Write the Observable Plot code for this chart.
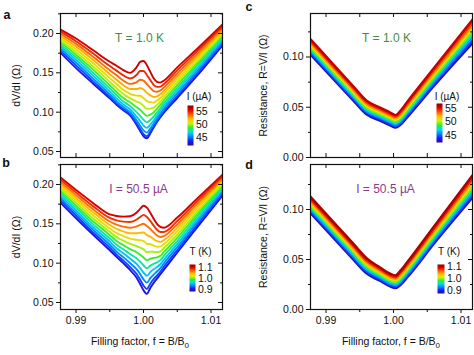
<!DOCTYPE html>
<html><head><meta charset="utf-8">
<script src="https://cdn.jsdelivr.net/npm/d3@7"></script>
<script src="https://cdn.jsdelivr.net/npm/@observablehq/plot@0.6"></script>
<style>
body{margin:0;background:#fff;}
#fig{position:relative;width:474px;height:355px;overflow:hidden;font-family:"Liberation Sans",Arial,sans-serif;color:#111;}
.t{position:absolute;white-space:nowrap;transform:translate(-50%,-50%);line-height:1;}
.lt{font-weight:bold;font-size:12.5px;}
.xt{font-size:10.5px;}
.cb{font-size:10px;}
</style></head><body><div id="fig"></div>
<script>
// ---------- data ----------
const xAB = [0.9877, 0.990, 0.9925, 0.995, 0.996, 0.997, 0.998, 0.999, 0.9995, 1.0000, 1.0005, 1.001, 1.0015, 1.002, 1.0025, 1.003, 1.005, 1.008, 1.0117];
const xCD = [0.9877, 0.991, 0.994, 0.996, 0.998, 0.9995, 1.0003, 1.001, 1.002, 1.006, 1.0117];

// panel a: dV/dI at T = 1.0 K, one row per current I (µA)
const currentsA = [43.0, 44.2, 45.4, 46.6, 47.8, 49.0, 50.2, 51.4, 52.6, 53.8, 55.0, 56.2];
const dvdiA = [
  [0.1755, 0.1560, 0.1365, 0.1175, 0.1095, 0.1025, 0.0960, 0.0835, 0.0762, 0.0694, 0.0668, 0.0730, 0.0805, 0.0875, 0.0935, 0.0990, 0.1180, 0.1470, 0.1850],
  [0.1782, 0.1594, 0.1395, 0.1196, 0.1112, 0.1039, 0.0975, 0.0855, 0.0786, 0.0720, 0.0694, 0.0751, 0.0822, 0.0893, 0.0955, 0.1013, 0.1208, 0.1501, 0.1874],
  [0.1809, 0.1628, 0.1430, 0.1226, 0.1141, 0.1065, 0.1002, 0.0892, 0.0830, 0.0768, 0.0740, 0.0791, 0.0853, 0.0922, 0.0983, 0.1043, 0.1240, 0.1532, 0.1898],
  [0.1835, 0.1663, 0.1467, 0.1261, 0.1175, 0.1098, 0.1037, 0.0940, 0.0887, 0.0830, 0.0800, 0.0841, 0.0894, 0.0958, 0.1017, 0.1076, 0.1273, 0.1563, 0.1922],
  [0.1862, 0.1697, 0.1505, 0.1300, 0.1215, 0.1137, 0.1078, 0.0997, 0.0954, 0.0904, 0.0872, 0.0901, 0.0942, 0.0999, 0.1053, 0.1112, 0.1308, 0.1594, 0.1946],
  [0.1889, 0.1731, 0.1544, 0.1342, 0.1259, 0.1181, 0.1126, 0.1062, 0.1031, 0.0987, 0.0953, 0.0970, 0.0997, 0.1044, 0.1093, 0.1149, 0.1344, 0.1625, 0.1970],
  [0.1916, 0.1765, 0.1583, 0.1387, 0.1307, 0.1231, 0.1178, 0.1133, 0.1116, 0.1079, 0.1042, 0.1045, 0.1057, 0.1093, 0.1136, 0.1188, 0.1380, 0.1656, 0.1995],
  [0.1943, 0.1799, 0.1624, 0.1433, 0.1358, 0.1284, 0.1234, 0.1211, 0.1208, 0.1179, 0.1140, 0.1127, 0.1122, 0.1146, 0.1180, 0.1229, 0.1417, 0.1686, 0.2019],
  [0.1970, 0.1834, 0.1665, 0.1483, 0.1412, 0.1342, 0.1295, 0.1294, 0.1307, 0.1287, 0.1245, 0.1215, 0.1193, 0.1202, 0.1227, 0.1270, 0.1455, 0.1717, 0.2043],
  [0.1996, 0.1868, 0.1706, 0.1533, 0.1469, 0.1403, 0.1360, 0.1383, 0.1412, 0.1402, 0.1356, 0.1309, 0.1268, 0.1260, 0.1275, 0.1312, 0.1493, 0.1748, 0.2067],
  [0.2023, 0.1902, 0.1748, 0.1586, 0.1528, 0.1467, 0.1428, 0.1476, 0.1523, 0.1523, 0.1473, 0.1408, 0.1347, 0.1321, 0.1325, 0.1356, 0.1531, 0.1779, 0.2091],
  [0.2050, 0.1936, 0.1790, 0.1640, 0.1590, 0.1535, 0.1500, 0.1575, 0.1640, 0.1650, 0.1597, 0.1512, 0.1430, 0.1385, 0.1376, 0.1400, 0.1570, 0.1810, 0.2115]
];

// panel b: dV/dI at I = 50.5 µA, one row per temperature T (K)
const tempsB = [0.900, 0.918, 0.936, 0.955, 0.973, 0.991, 1.009, 1.027, 1.045, 1.064, 1.082, 1.100];
const dvdiB = [
  [0.1770, 0.1571, 0.1364, 0.1164, 0.1080, 0.1000, 0.0914, 0.0812, 0.0736, 0.0655, 0.0610, 0.0685, 0.0750, 0.0804, 0.0859, 0.0914, 0.1135, 0.1461, 0.1860],
  [0.1799, 0.1604, 0.1393, 0.1197, 0.1109, 0.1033, 0.0952, 0.0859, 0.0790, 0.0715, 0.0672, 0.0739, 0.0796, 0.0843, 0.0893, 0.0952, 0.1167, 0.1494, 0.1884],
  [0.1828, 0.1636, 0.1426, 0.1234, 0.1147, 0.1077, 0.1002, 0.0920, 0.0859, 0.0794, 0.0752, 0.0809, 0.0855, 0.0894, 0.0937, 0.0996, 0.1203, 0.1527, 0.1908],
  [0.1857, 0.1669, 0.1460, 0.1273, 0.1189, 0.1125, 0.1058, 0.0987, 0.0937, 0.0881, 0.0840, 0.0886, 0.0922, 0.0950, 0.0986, 0.1042, 0.1242, 0.1560, 0.1932],
  [0.1886, 0.1702, 0.1496, 0.1314, 0.1234, 0.1176, 0.1117, 0.1059, 0.1019, 0.0974, 0.0935, 0.0969, 0.0992, 0.1011, 0.1038, 0.1090, 0.1281, 0.1593, 0.1956],
  [0.1915, 0.1734, 0.1533, 0.1356, 0.1282, 0.1230, 0.1179, 0.1136, 0.1106, 0.1072, 0.1035, 0.1056, 0.1067, 0.1074, 0.1093, 0.1139, 0.1322, 0.1626, 0.1981],
  [0.1945, 0.1767, 0.1570, 0.1398, 0.1331, 0.1286, 0.1244, 0.1215, 0.1197, 0.1175, 0.1139, 0.1147, 0.1144, 0.1140, 0.1150, 0.1189, 0.1363, 0.1660, 0.2005],
  [0.1974, 0.1800, 0.1608, 0.1441, 0.1382, 0.1344, 0.1311, 0.1297, 0.1291, 0.1280, 0.1247, 0.1240, 0.1224, 0.1209, 0.1210, 0.1240, 0.1406, 0.1693, 0.2029],
  [0.2003, 0.1832, 0.1647, 0.1485, 0.1435, 0.1404, 0.1380, 0.1381, 0.1387, 0.1389, 0.1357, 0.1337, 0.1306, 0.1279, 0.1271, 0.1292, 0.1449, 0.1726, 0.2053],
  [0.2032, 0.1865, 0.1686, 0.1530, 0.1489, 0.1465, 0.1451, 0.1467, 0.1486, 0.1500, 0.1471, 0.1436, 0.1391, 0.1351, 0.1333, 0.1344, 0.1492, 0.1759, 0.2077],
  [0.2061, 0.1897, 0.1725, 0.1575, 0.1544, 0.1528, 0.1523, 0.1555, 0.1587, 0.1614, 0.1587, 0.1537, 0.1477, 0.1425, 0.1397, 0.1397, 0.1536, 0.1792, 0.2101],
  [0.2090, 0.1930, 0.1765, 0.1620, 0.1600, 0.1592, 0.1597, 0.1645, 0.1690, 0.1730, 0.1705, 0.1640, 0.1565, 0.1500, 0.1462, 0.1450, 0.1580, 0.1825, 0.2125]
];

// panel c: R = V/I at T = 1.0 K, one row per current
const currentsC = [43.0, 44.6, 46.2, 47.8, 49.4, 51.0, 52.6, 54.2, 55.8];
const resC = [
  [0.1025, 0.0787, 0.0571, 0.0430, 0.0368, 0.0320, 0.0298, 0.0325, 0.0400, 0.0715, 0.1140],
  [0.1044, 0.0805, 0.0588, 0.0447, 0.0384, 0.0336, 0.0313, 0.0342, 0.0419, 0.0737, 0.1169],
  [0.1063, 0.0823, 0.0606, 0.0464, 0.0400, 0.0352, 0.0329, 0.0359, 0.0438, 0.0759, 0.1198],
  [0.1081, 0.0841, 0.0623, 0.0481, 0.0416, 0.0368, 0.0344, 0.0376, 0.0456, 0.0781, 0.1226],
  [0.1100, 0.0859, 0.0641, 0.0498, 0.0432, 0.0384, 0.0359, 0.0394, 0.0475, 0.0803, 0.1255],
  [0.1119, 0.0877, 0.0658, 0.0514, 0.0447, 0.0399, 0.0375, 0.0411, 0.0494, 0.0824, 0.1284],
  [0.1138, 0.0895, 0.0675, 0.0531, 0.0463, 0.0415, 0.0390, 0.0428, 0.0513, 0.0846, 0.1313],
  [0.1156, 0.0913, 0.0693, 0.0548, 0.0479, 0.0431, 0.0405, 0.0445, 0.0531, 0.0868, 0.1341],
  [0.1175, 0.0931, 0.0710, 0.0565, 0.0495, 0.0447, 0.0420, 0.0462, 0.0550, 0.0890, 0.1370]
];

// panel d: R = V/I at I = 50.5 µA, one row per temperature
const tempsD = [0.890, 0.9175, 0.945, 0.9725, 1.000, 1.0275, 1.055, 1.0825, 1.110];
const resD = [
  [0.0965, 0.0724, 0.0505, 0.0362, 0.0288, 0.0232, 0.0215, 0.0245, 0.0320, 0.0660, 0.1120],
  [0.0985, 0.0744, 0.0524, 0.0381, 0.0305, 0.0248, 0.0231, 0.0263, 0.0339, 0.0681, 0.1148],
  [0.1005, 0.0763, 0.0544, 0.0400, 0.0321, 0.0263, 0.0246, 0.0280, 0.0358, 0.0703, 0.1175],
  [0.1025, 0.0783, 0.0563, 0.0418, 0.0338, 0.0279, 0.0262, 0.0298, 0.0376, 0.0724, 0.1203],
  [0.1045, 0.0803, 0.0583, 0.0437, 0.0354, 0.0295, 0.0278, 0.0315, 0.0395, 0.0745, 0.1230],
  [0.1065, 0.0822, 0.0602, 0.0456, 0.0371, 0.0310, 0.0293, 0.0333, 0.0414, 0.0766, 0.1258],
  [0.1085, 0.0842, 0.0621, 0.0475, 0.0387, 0.0326, 0.0309, 0.0350, 0.0433, 0.0788, 0.1285],
  [0.1105, 0.0861, 0.0641, 0.0493, 0.0404, 0.0341, 0.0324, 0.0368, 0.0451, 0.0809, 0.1313],
  [0.1125, 0.0881, 0.0660, 0.0512, 0.0420, 0.0357, 0.0340, 0.0385, 0.0470, 0.0830, 0.1340]
];

// tick values and labels
const xMajor = [0.99, 1.00, 1.01];
const xMinor = [0.995, 1.005];
const yMajorAB = [0.05, 0.10, 0.15, 0.20];
const yMinorAB = [0.075, 0.125, 0.175, 0.225];
const yMajorCD = [0.00, 0.05, 0.10];
const yMinorCD = [0.025, 0.075, 0.125];
const barTicksI = [45, 50, 55];
const barTicksT = [0.9, 1.0, 1.1];

// ---------- drawing ----------
const rainbow = ["#2a0a8f", "#1a1aff", "#0088ff", "#00dcf0", "#30ee30", "#d8f000", "#ffc000", "#ff5a00", "#e00000", "#8c0000"];
const interp = d3.piecewise(d3.interpolateRgb, rainbow);
const FONT = "Liberation Sans, Arial, sans-serif";
const fig = document.getElementById("fig");

function table(xs, levels, rows) {
  return rows.flatMap((row, i) => row.map((y, j) => ({x: xs[j], y, level: levels[i]})));
}

function place(node, left, top) {
  node.style.position = "absolute";
  node.style.left = left + "px";
  node.style.top = top + "px";
  fig.appendChild(node);
}

function panel(o) {
  const iw = o.width - o.ml - o.mr, ih = o.height - o.mt - o.mb;
  const marks = [
    Plot.line(o.data, {x: "x", y: "y", z: "level", stroke: "level", curve: "monotone-x", strokeWidth: o.sw, clip: true}),
    Plot.frame({stroke: "#111", strokeWidth: 1.2}),
    Plot.axisY(o.yMajor, {anchor: "left", tickSize: 4, tickPadding: 3, tickFormat: ".2f", fontSize: 10.5,
      label: o.yLabel, labelAnchor: "center", labelOffset: o.labelOffset, labelArrow: "none", fontSize: 10.5}),
    Plot.axisY(o.yMinor, {anchor: "left", tickSize: 2, tickFormat: () => "", label: null}),
    Plot.tickY(o.yMajor, {y: d => d, insetLeft: iw - 4, stroke: "#111"}),
    Plot.tickY(o.yMinor, {y: d => d, insetLeft: iw - 2, stroke: "#111"}),
    Plot.tickX(xMajor.concat(xMinor), {x: d => d, insetBottom: ih - 4, stroke: "#111"}),
    Plot.text([o.note], {text: d => d, frameAnchor: "top", dy: 20, dx: o.noteDx, fill: o.noteColor, fontSize: 12})
  ];
  if (o.bottomAxis) {
    marks.push(Plot.axisX(xMajor, {anchor: "bottom", tickSize: 4, tickPadding: 3, tickFormat: ".2f", fontSize: 10.5, label: null}));
    marks.push(Plot.axisX(xMinor, {anchor: "bottom", tickSize: 3, tickFormat: () => "", label: null}));
  } else {
    marks.push(Plot.tickX(xMajor.concat(xMinor), {x: d => d, insetTop: ih - 4, stroke: "#111"}));
  }
  const p = Plot.plot({
    width: o.width, height: o.height,
    marginLeft: o.ml, marginRight: o.mr, marginTop: o.mt, marginBottom: o.mb,
    x: {domain: [0.9877, 1.0117], axis: o.bottomAxis ? undefined : null},
    y: {domain: o.yDomain},
    color: {type: "linear", domain: o.colorDomain, interpolate: interp},
    style: {fontFamily: FONT, fontSize: "10.5px", color: "#111", background: "transparent", overflow: "visible"},
    marks
  });
  place(p, o.left, o.top);
}

function colorbar(o) {
  const p = Plot.plot({
    width: o.barW + 26, height: o.barH + 10,
    marginTop: 5, marginBottom: 5, marginLeft: 0, marginRight: 26,
    x: {domain: [0, 1], axis: null},
    y: {domain: o.domain, axis: null},
    color: {type: "linear", domain: o.domain, interpolate: interp},
    style: {fontFamily: FONT, fontSize: "10.5px", color: "#111", background: "transparent", overflow: "visible"},
    marks: [
      Plot.raster({x1: 0, x2: 1, y1: o.domain[0], y2: o.domain[1], width: 1, height: 120, fill: (x, y) => y}),
      Plot.axisY(o.ticks, {anchor: "right", tickSize: 0, tickPadding: 2.5, tickFormat: o.fmt, fontSize: 10.5, label: null})
    ]
  });
  place(p, o.left, o.top - 5);
}

function text(html, x, y, cls) {
  const d = document.createElement("div");
  d.className = "t " + cls;
  d.innerHTML = html;
  d.style.left = x + "px";
  d.style.top = y + "px";
  fig.appendChild(d);
}

panel({data: table(xAB, currentsA, dvdiA), left: 0, top: 0, width: 237, height: 164, ml: 60, mr: 15, mt: 13, mb: 7,
  yDomain: [0.0424, 0.2254], yMajor: yMajorAB, yMinor: yMinorAB, yLabel: "dV/dI (Ω)", labelOffset: 48,
  colorDomain: [41.7, 57.6], note: "T = 1.0 K", noteColor: "#3f8f3f", noteDx: -2, sw: 1.9, bottomAxis: false});
panel({data: table(xAB, tempsB, dvdiB), left: 0, top: 151, width: 237, height: 204, ml: 60, mr: 15, mt: 13, mb: 46,
  yDomain: [0.0411, 0.2254], yMajor: yMajorAB, yMinor: yMinorAB, yLabel: "dV/dI (Ω)", labelOffset: 48,
  colorDomain: [0.882, 1.124], note: "I = 50.5 µA", noteColor: "#8b3a8b", noteDx: -3, sw: 1.9, bottomAxis: true});
panel({data: table(xCD, currentsC, resC), left: 237, top: 0, width: 237, height: 164, ml: 73, mr: 2, mt: 13, mb: 7,
  yDomain: [0, 0.1433], yMajor: yMajorCD, yMinor: yMinorCD, yLabel: "Resistance, R=V/I (Ω)", labelOffset: 51,
  colorDomain: [42.4, 56.9], note: "T = 1.0 K", noteColor: "#3f8f3f", noteDx: -5, sw: 2.6, bottomAxis: false});
panel({data: table(xCD, tempsD, resD), left: 237, top: 151, width: 237, height: 204, ml: 73, mr: 2, mt: 13, mb: 46,
  yDomain: [0, 0.145], yMajor: yMajorCD, yMinor: yMinorCD, yLabel: "Resistance, R=V/I (Ω)", labelOffset: 51,
  colorDomain: [0.879, 1.121], note: "I = 50.5 µA", noteColor: "#8b3a8b", noteDx: -6, sw: 2.6, bottomAxis: true});

colorbar({domain: [41.7, 57.6], ticks: barTicksI, fmt: d => String(d), left: 187, top: 105, barW: 6, barH: 40});
colorbar({domain: [0.882, 1.124], ticks: barTicksT, fmt: ".1f", left: 189, top: 264, barW: 6, barH: 27});
colorbar({domain: [42.4, 56.9], ticks: barTicksI, fmt: d => String(d), left: 436, top: 103, barW: 6, barH: 39});
colorbar({domain: [0.879, 1.121], ticks: barTicksT, fmt: ".1f", left: 437, top: 264, barW: 7, barH: 29});

text("I (µA)", 199, 97, "cb");
text("T (K)", 200.5, 252, "cb");
text("I (µA)", 447, 97, "cb");
text("T (K)", 449, 252, "cb");

text("a", 7, 15, "lt");
text("b", 6, 163, "lt");
text("c", 249, 7, "lt");
text("d", 249, 165, "lt");

text("Filling factor, f = B/B<sub style=\"font-size:8px\">0</sub>", 140, 343, "xt");
text("Filling factor, f = B/B<sub style=\"font-size:8px\">0</sub>", 391, 343, "xt");
</script></body></html>
